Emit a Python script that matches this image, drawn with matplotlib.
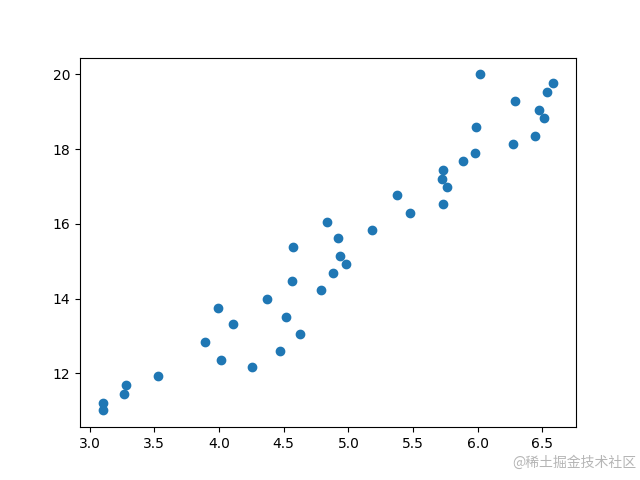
import matplotlib
matplotlib.use("Agg")
import matplotlib.pyplot as plt

x = [3.10, 3.10, 3.263, 3.282, 3.525, 3.891, 3.995, 4.015, 4.105, 4.255,
     4.372, 4.47, 4.515, 4.565, 4.575, 4.625, 4.79, 4.835, 4.885, 4.922,
     4.935, 4.985, 5.185, 5.375, 5.475, 5.72, 5.735, 5.735, 5.765, 5.885,
     5.975, 5.985, 6.015, 6.271, 6.285, 6.445, 6.475, 6.515, 6.535, 6.585]
y = [11.01, 11.22, 11.46, 11.68, 11.92, 12.85, 13.76, 12.37, 13.31, 12.16,
     14.00, 12.61, 13.52, 14.46, 15.37, 13.06, 14.22, 16.06, 14.68, 15.61,
     15.15, 14.92, 15.85, 16.76, 16.30, 17.21, 17.45, 16.52, 17.00, 17.67,
     17.91, 18.60, 20.00, 18.15, 19.30, 18.36, 19.06, 18.84, 19.52, 19.76]

fig, ax = plt.subplots(figsize=(6.4, 4.8), dpi=100)
ax.scatter(x, y)

fig.text(0.995, 0.022, "@稀土掘金技术社区", ha="right", va="bottom",
         fontsize=10, color="#b5b5b5",
         family=["Noto Sans CJK SC", "DejaVu Sans"])

fig.savefig("out.png", dpi=100)
